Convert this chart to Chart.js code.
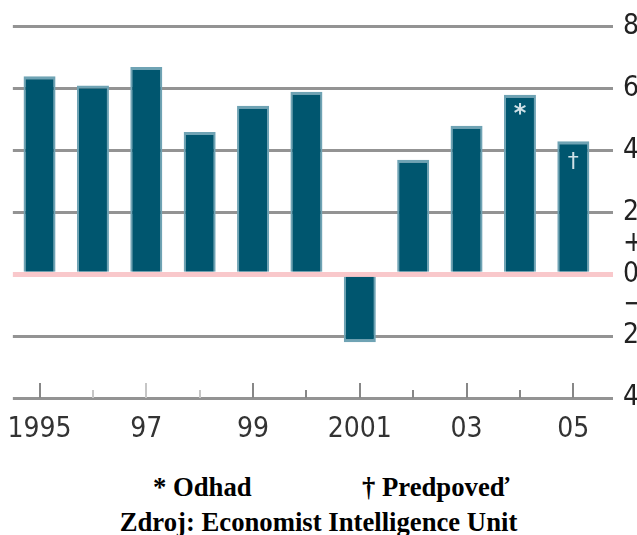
<!DOCTYPE html>
<html>
<head>
<meta charset="utf-8">
<script src="https://cdn.jsdelivr.net/npm/chart.js@4"></script>
<style>
  html, body { margin: 0; padding: 0; background: #fff; }
  #wrap { position: relative; width: 637px; height: 535px; overflow: hidden; }
  canvas { position: absolute; left: 0; top: 0; }
  .note { position: absolute; font-family: "Liberation Serif", "Times New Roman", serif; font-weight: bold; font-size: 26.7px; line-height: 30px; color: #000; white-space: nowrap; }
</style>
</head>
<body>
<div id="wrap">
  <canvas id="c" width="637" height="460"></canvas>
  <div class="note" id="n1" style="left:153px; top:472px;">* Odhad</div>
  <div class="note" id="n2" style="left:362px; top:472px;">† Predpoveď</div>
  <div class="note" id="n3" style="left:0; width:637px; text-align:center; top:507px;">Zdroj: Economist Intelligence Unit</div>
</div>
<script>
const categories = ['1995','1996','1997','1998','1999','2000','2001','2002','2003','2004','2005'];
const xTickLabels = ['1995','','97','','99','','2001','','03','','05'];
const growth = [6.4, 6.1, 6.7, 4.6, 5.45, 5.9, -2.2, 3.7, 4.8, 5.8, 4.3];
const barMarks = ['', '', '', '', '', '', '', '', '', '*', '†'];
const yTickValues = [8, 6, 4, 2, 1, 0, -1, -2, -4];
const yTickLabels = ['8', '6', '4', '2', '+', '0', '−', '2', '4'];
const majorTicks = [true, false, true, false, true, false, true, false, true, false, true];
const lightTicks = [false, true, true, true, false, false, false, false, false, false, false];

const axisFont = { family: '"DejaVu Sans Condensed", "DejaVu Sans", sans-serif', size: 28 };

const bottomTicks = {
  id: 'bottomTicks',
  afterDatasetsDraw(chart) {
    const { ctx, chartArea, scales } = chart;
    ctx.save();
    ctx.lineWidth = 2;
    categories.forEach((c, i) => {
      const x = Math.round(scales.x.getPixelForValue(i));
      const len = majorTicks[i] ? 15 : 8;
      ctx.strokeStyle = lightTicks[i] ? '#c6c6c6' : '#878787';
      ctx.beginPath();
      ctx.moveTo(x, chartArea.bottom);
      ctx.lineTo(x, chartArea.bottom - len);
      ctx.stroke();
    });
    ctx.restore();
  }
};

const markPlugin = {
  id: 'markPlugin',
  afterDatasetsDraw(chart) {
    const { ctx } = chart;
    const meta = chart.getDatasetMeta(0);
    ctx.save();
    ctx.fillStyle = '#cfe1e7';
    ctx.textAlign = 'center';
    ctx.textBaseline = 'top';
    meta.data.forEach((bar, i) => {
      if (!barMarks[i]) return;
      ctx.font = (barMarks[i] === '*' ? 'bold 24px ' : '22px ') + '"DejaVu Sans", sans-serif';
      ctx.fillText(barMarks[i], bar.x, bar.y + (barMarks[i] === '*' ? 8 : 10));
    });
    ctx.restore();
  }
};

new Chart(document.getElementById('c'), {
  type: 'bar',
  data: {
    labels: categories,
    datasets: [{
      data: growth,
      backgroundColor: '#00566f',
      borderColor: '#6fa3b4',
      borderWidth: (ctx) => {
        const v = ctx.raw;
        return v < 0 ? { top: 0, bottom: 3, left: 2, right: 2 } : { top: 3, bottom: 0, left: 2, right: 2 };
      },
      borderSkipped: false,
      barPercentage: 0.6,
      categoryPercentage: 1
    }]
  },
  options: {
    responsive: false,
    animation: false,
    layout: { padding: { top: 25, left: 11, right: 0, bottom: 17 } },
    plugins: { legend: { display: false }, tooltip: { enabled: false } },
    scales: {
      x: {
        grid: { display: false },
        border: { display: false },
        afterFit: (axis) => { axis.height = 45; },
        ticks: {
          autoSkip: false,
          maxRotation: 0,
          padding: 7,
          color: '#333',
          font: axisFont,
          callback: (v, i) => xTickLabels[i]
        }
      },
      y: {
        position: 'right',
        min: -4,
        max: 8,
        border: { display: false },
        afterFit: (axis) => { axis.width = 37; },
        afterBuildTicks: (axis) => { axis.ticks = yTickValues.map(v => ({ value: v })); },
        ticks: {
          autoSkip: false,
          padding: 10,
          color: '#222',
          font: axisFont,
          callback: (v) => {
            const k = yTickValues.indexOf(v);
            return k >= 0 ? yTickLabels[k] : '';
          }
        },
        grid: {
          drawTicks: true,
          tickLength: 13,
          color: (ctx) => {
            const v = ctx.tick && ctx.tick.value;
            if (v === 0) return '#f9c8cb';
            if (v === 1 || v === -1) return 'rgba(0,0,0,0)';
            return '#939393';
          },
          lineWidth: (ctx) => {
            const v = ctx.tick && ctx.tick.value;
            if (v === 0) return 5;
            return 3;
          }
        }
      }
    }
  },
  plugins: [bottomTicks, markPlugin]
});
</script>
</body>
</html>
